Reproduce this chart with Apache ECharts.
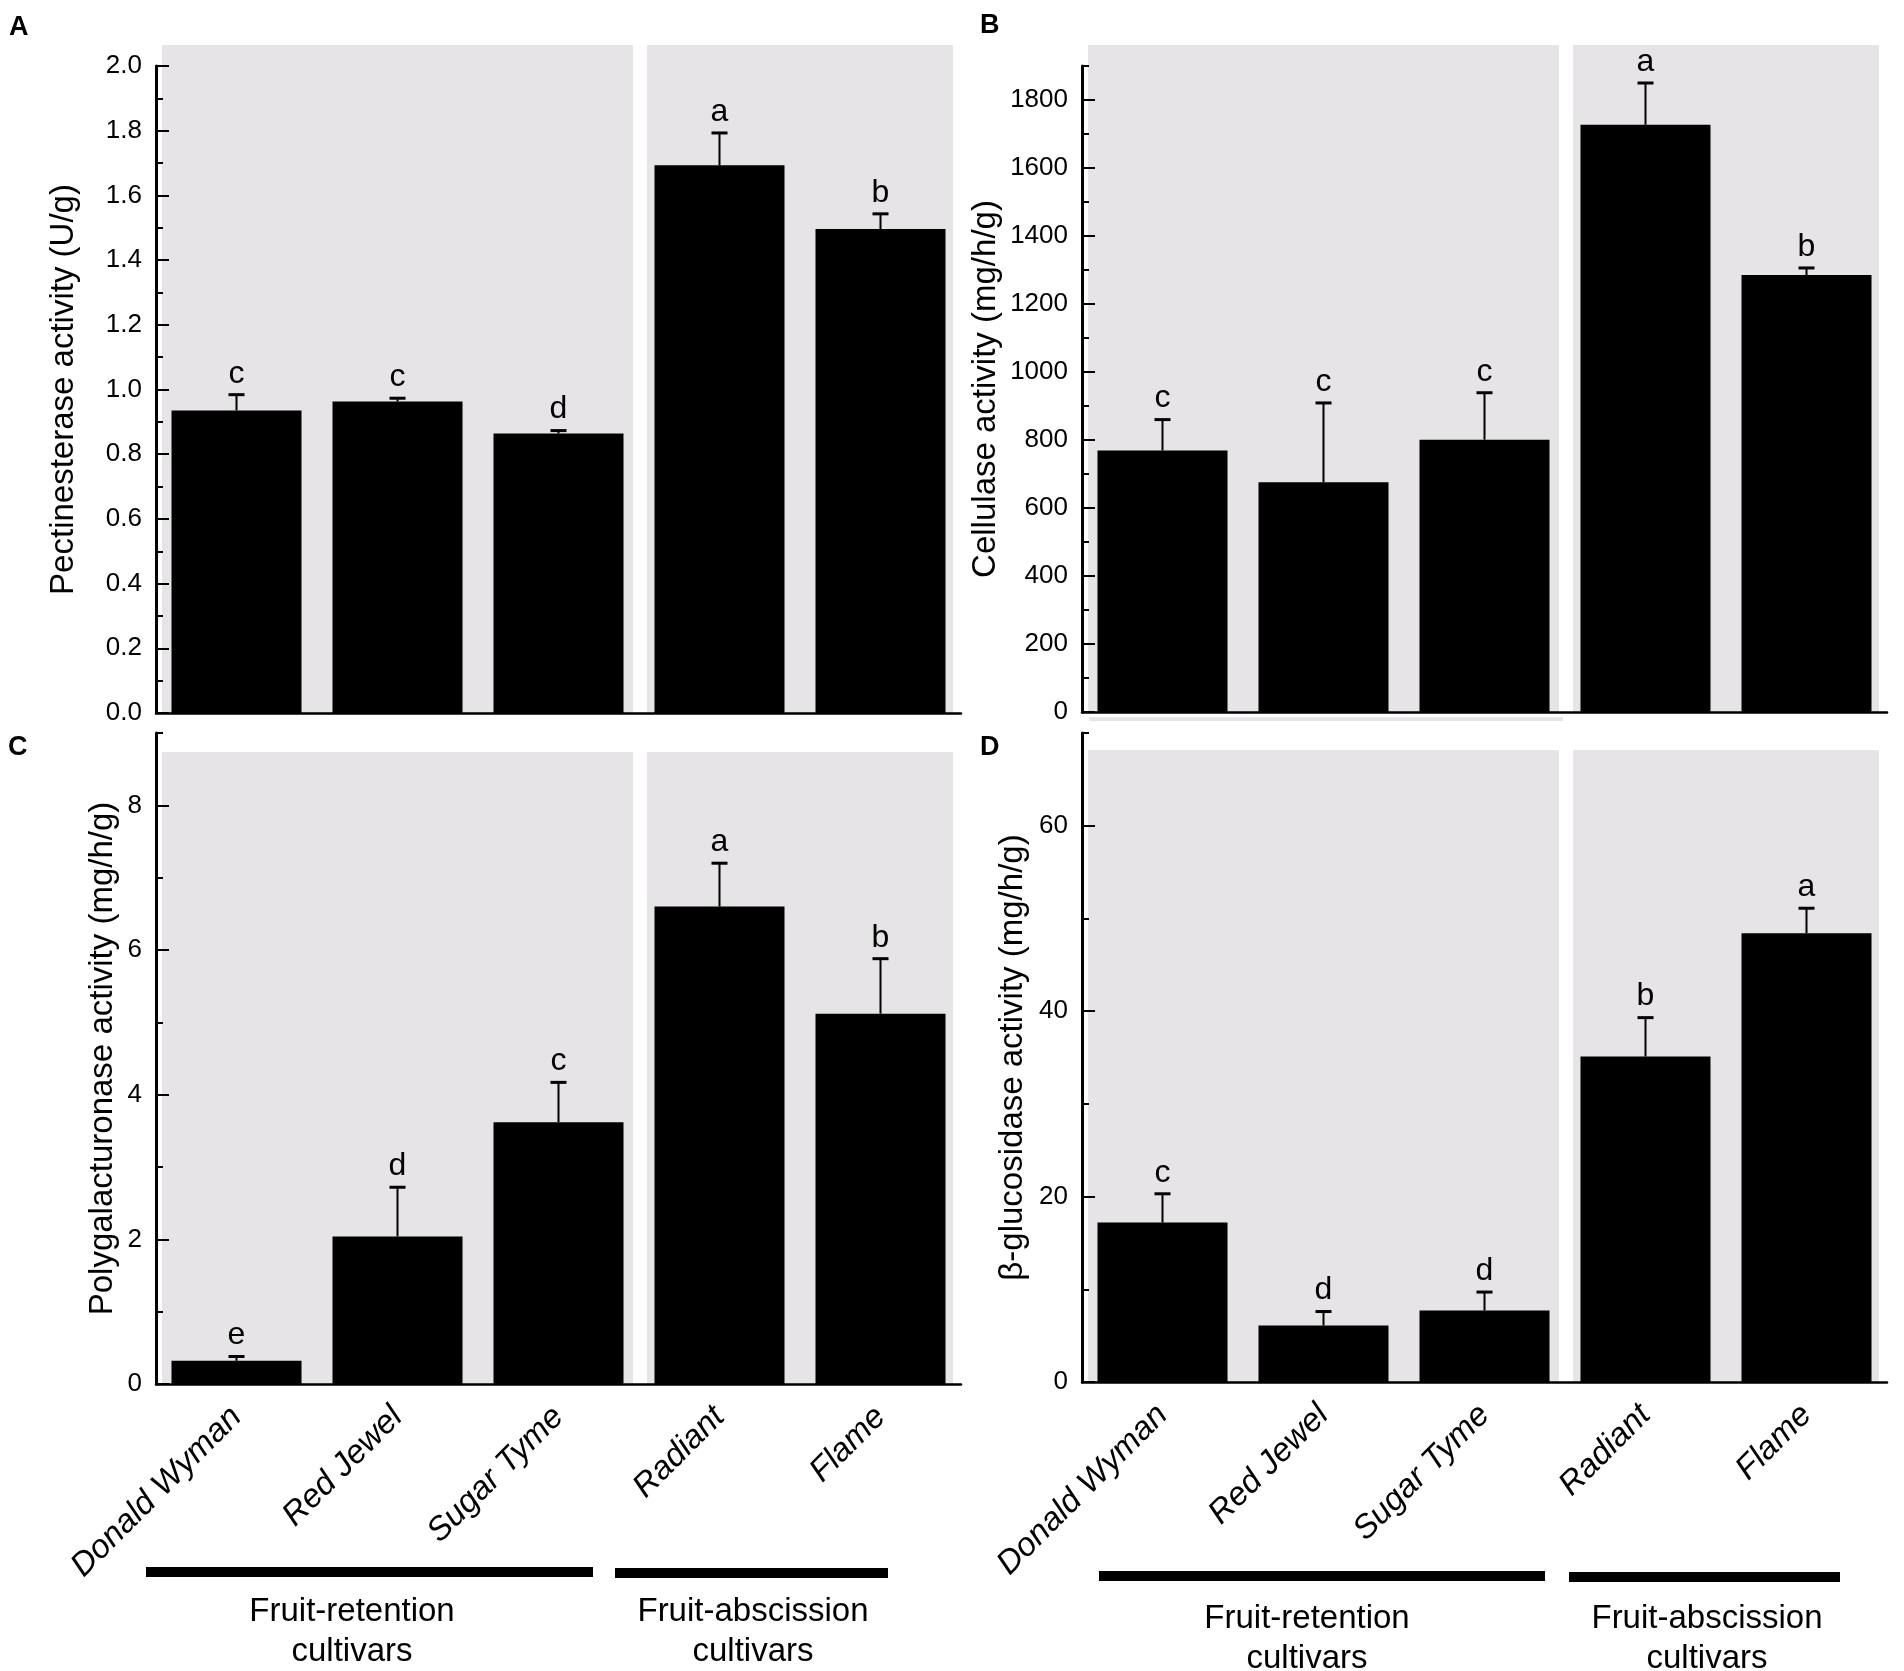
<!DOCTYPE html>
<html>
<head>
<meta charset="utf-8">
<script src="https://cdn.jsdelivr.net/npm/echarts@6/dist/echarts.min.js"></script>
<style>
html, body { margin: 0; padding: 0; background: #fff; }
#root { width: 1904px; height: 1671px; }
</style>
</head>
<body>
<div id="root"></div>
<script>
var cultivars = ['Donald Wyman', 'Red Jewel', 'Sugar Tyme', 'Radiant', 'Flame'];

// A: pectinesterase (U/g)
var pectinMean = [0.935, 0.963, 0.864, 1.693, 1.496];
var pectinSd = [0.049, 0.010, 0.009, 0.100, 0.047];
var pectinLetters = ['c', 'c', 'd', 'a', 'b'];
var pectinTicks = [0, 0.2, 0.4, 0.6, 0.8, 1.0, 1.2, 1.4, 1.6, 1.8, 2.0];

// B: cellulase (mg/h/g)
var cellMean = [769, 676, 801, 1727, 1285];
var cellSd = [91, 233, 138, 123, 21];
var cellLetters = ['c', 'c', 'c', 'a', 'b'];
var cellTicks = [0, 200, 400, 600, 800, 1000, 1200, 1400, 1600, 1800];

// C: polygalacturonase (mg/h/g)
var pgMean = [0.32, 2.04, 3.62, 6.60, 5.12];
var pgSd = [0.06, 0.68, 0.55, 0.60, 0.76];
var pgLetters = ['e', 'd', 'c', 'a', 'b'];
var pgTicks = [0, 2, 4, 6, 8];

// D: beta-glucosidase (mg/h/g)
var glucMean = [17.2, 6.1, 7.7, 35.1, 48.4];
var glucSd = [3.1, 1.5, 2.0, 4.2, 2.7];
var glucLetters = ['c', 'd', 'd', 'b', 'a'];
var glucTicks = [0, 20, 40, 60];

var groupNames = ['Fruit-retention\ncultivars', 'Fruit-abscission\ncultivars'];

var FONT = '"Liberation Sans", Arial, Helvetica, sans-serif';
var BAND = 161;

var panels = [
    { tag: 'A', left: 156, top: 66, height: 647, max: 2.0, minor: 0.1, grayTop: 45,
      name: 'Pectinesterase activity (U/g)', nameGap: 76, showX: false,
      mean: pectinMean, sd: pectinSd, letters: pectinLetters, ticks: pectinTicks,
      fmt: function (v) { return v.toFixed(1); } },
    { tag: 'B', left: 1082, top: 66, height: 646, max: 1900, minor: 100, grayTop: 45,
      name: 'Cellulase activity (mg/h/g)', nameGap: 80, showX: false,
      mean: cellMean, sd: cellSd, letters: cellLetters, ticks: cellTicks,
      fmt: function (v) { return String(v); } },
    { tag: 'C', left: 156, top: 733, height: 651, max: 9, minor: 1, grayTop: 752,
      name: 'Polygalacturonase activity (mg/h/g)', nameGap: 37, showX: true,
      mean: pgMean, sd: pgSd, letters: pgLetters, ticks: pgTicks,
      fmt: function (v) { return String(v); } },
    { tag: 'D', left: 1082, top: 733, height: 649, max: 70, minor: 10, grayTop: 750,
      name: 'β-glucosidase activity (mg/h/g)', nameGap: 53, showX: true,
      mean: glucMean, sd: glucSd, letters: glucLetters, ticks: glucTicks,
      fmt: function (v) { return String(v); } }
];

var grids = [], xAxes = [], yAxes = [], minorAxes = [], series = [], graphics = [];

panels.forEach(function (p, k) {
    grids.push({ left: p.left, top: p.top, width: BAND * 5, height: p.height });
    xAxes.push({
        gridIndex: k,
        type: 'category',
        data: cultivars,
        boundaryGap: true,
        axisLine: { show: true, lineStyle: { color: '#000', width: 2.5 } },
        axisTick: { show: false },
        axisLabel: {
            show: p.showX, rotate: 45, margin: 28, color: '#000',
            fontSize: 33, fontStyle: 'italic', fontFamily: FONT, interval: 0
        },
        splitLine: { show: false },
        z: 5
    });
    // main axis: line, labels and long ticks
    yAxes.push({
        gridIndex: k,
        type: 'value',
        position: 'left',
        min: 0,
        max: p.max,
        interval: p.minor,
        name: p.name,
        nameLocation: 'middle',
        nameGap: p.nameGap,
        nameTextStyle: { color: '#000', fontSize: 33, fontFamily: FONT },
        axisLine: { show: true, lineStyle: { color: '#000', width: 3 } },
        axisTick: { show: true, inside: true, length: 13, customValues: p.ticks,
                    lineStyle: { color: '#000', width: 2 } },
        axisLabel: {
            color: '#000', fontSize: 26, fontFamily: FONT, margin: 14,
            customValues: p.ticks, formatter: p.fmt
        },
        splitLine: { show: false },
        z: 5
    });
    // second axis on the same grid: short ticks at every minor step
    minorAxes.push({
        gridIndex: k,
        type: 'value',
        position: 'left',
        offset: 0,
        min: 0,
        max: p.max,
        interval: p.minor,
        axisLine: { show: false },
        axisTick: { show: true, inside: true, length: 7, lineStyle: { color: '#000', width: 2 } },
        axisLabel: { show: false },
        splitLine: { show: false },
        z: 5
    });
    series.push({
        type: 'bar',
        xAxisIndex: k,
        yAxisIndex: k,
        data: p.mean,
        barWidth: 130,
        itemStyle: { color: '#000' },
        z: 3
    });
    var errData = p.mean.map(function (m, i) { return [i, m, m + p.sd[i]]; });
    series.push({
        type: 'custom',
        xAxisIndex: k,
        yAxisIndex: k,
        data: errData,
        z: 4,
        renderItem: function (params, api) {
            var base = api.coord([api.value(0), api.value(1)]);
            var top = api.coord([api.value(0), api.value(2)]);
            return {
                type: 'group',
                children: [
                    { type: 'line', shape: { x1: base[0], y1: base[1], x2: base[0], y2: top[1] },
                      style: { stroke: '#000', lineWidth: 2 } },
                    { type: 'line', shape: { x1: base[0] - 8, y1: top[1], x2: base[0] + 8, y2: top[1] },
                      style: { stroke: '#000', lineWidth: 3 } },
                    { type: 'text', x: base[0], y: top[1] - 5,
                      style: { text: p.letters[params.dataIndex], fill: '#000', fontSize: 32,
                               fontFamily: FONT, align: 'center', verticalAlign: 'bottom' } }
                ]
            };
        }
    });

    // shaded cultivar-group backgrounds
    var bottom = p.top + p.height;
    graphics.push({ type: 'rect', z: -10, silent: true,
        shape: { x: p.left + 6, y: p.grayTop, width: BAND * 3 - 12, height: bottom - p.grayTop },
        style: { fill: '#e6e4e6' } });
    graphics.push({ type: 'rect', z: -10, silent: true,
        shape: { x: p.left + BAND * 3 + 8, y: p.grayTop, width: BAND * 2 - 16, height: bottom - p.grayTop },
        style: { fill: '#e6e4e6' } });
});

// thin grey strip left under the B axis
graphics.push({ type: 'rect', z: -10, silent: true,
    shape: { x: 1089, y: 717, width: 474, height: 4 }, style: { fill: '#e6e4e6' } });

// panel tags
[[9, 14, 'A'], [980, 12, 'B'], [8, 734, 'C'], [980, 734, 'D']].forEach(function (t) {
    graphics.push({ type: 'text', left: t[0], top: t[1],
        style: { text: t[2], fill: '#000', fontSize: 27, fontWeight: 'bold', fontFamily: FONT } });
});

// group bars and captions under the C and D panels
var groupBars = [
    [146, 1567, 447, 10], [615, 1568, 273, 10],
    [1099, 1571, 446, 10], [1569, 1572, 271, 10]
];
groupBars.forEach(function (b) {
    graphics.push({ type: 'rect', shape: { x: b[0], y: b[1], width: b[2], height: b[3] },
        style: { fill: '#000' } });
});
var groupCaps = [[352, 1592, 0], [753, 1592, 1], [1307, 1599, 0], [1707, 1599, 1]];
groupCaps.forEach(function (c) {
    graphics.push({ type: 'text', x: c[0], y: c[1],
        style: { text: groupNames[c[2]], fill: '#000', fontSize: 33, fontFamily: FONT,
                 align: 'center', verticalAlign: 'top', lineHeight: 40 } });
});

var chart = echarts.init(document.getElementById('root'), null, { renderer: 'canvas' });
chart.setOption({
    backgroundColor: '#fff',
    animation: false,
    textStyle: { fontFamily: FONT },
    grid: grids,
    xAxis: xAxes,
    yAxis: yAxes.concat(minorAxes),
    series: series,
    graphic: graphics
});
</script>
</body>
</html>
